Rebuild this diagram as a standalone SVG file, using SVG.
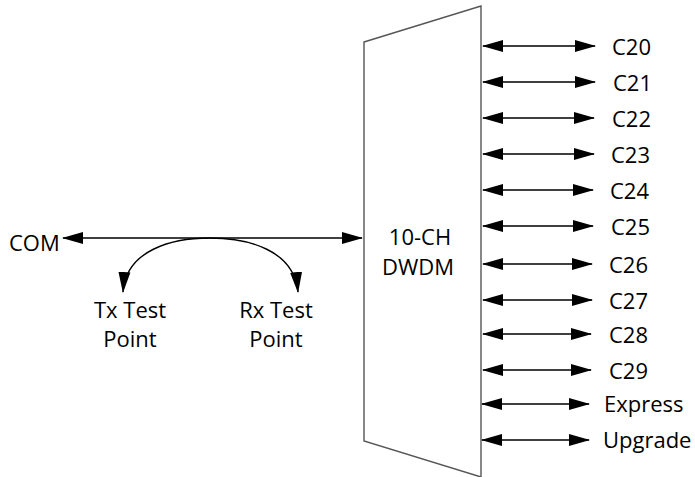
<svg xmlns="http://www.w3.org/2000/svg" width="695" height="477" viewBox="0 0 695 477">
<style>
  text { font-family: "Open Sans", "Liberation Sans", sans-serif; font-size: 22px; fill: #000; }
  .ln { stroke: #000; stroke-width: 1.4; fill: none; marker-start: url(#ah); marker-end: url(#ah); }
  .box { fill: #fff; stroke: #555; stroke-width: 1.4; }
</style>
<defs>
  <marker id="ah" markerUnits="userSpaceOnUse" markerWidth="22" markerHeight="13" refX="20" refY="6.5" orient="auto-start-reverse" viewBox="0 0 22 13">
    <path d="M0,0.5 L21,6.5 L0,12.5 Z" fill="#000"/>
  </marker>
</defs>
<g id="dwdm">
  <polygon class="box" points="364,42 481,6 481,477 364,441"/>
  <text x="420" y="245" text-anchor="middle">10-CH</text>
  <text x="418" y="275" text-anchor="middle">DWDM</text>
</g>
<g id="com"><text x="9" y="251">COM</text></g>
<g id="tx"><text x="130" y="318" text-anchor="middle">Tx Test</text><text x="130" y="347" text-anchor="middle">Point</text></g>
<g id="rx"><text x="276" y="318" text-anchor="middle">Rx Test</text><text x="276" y="347" text-anchor="middle">Point</text></g>
<g id="ports">
  <text x="612" y="55">C20</text>
  <text x="613" y="91">C21</text>
  <text x="612" y="127">C22</text>
  <text x="611" y="163">C23</text>
  <text x="610" y="199">C24</text>
  <text x="611" y="235">C25</text>
  <text x="609" y="273">C26</text>
  <text x="609" y="309">C27</text>
  <text x="609" y="343">C28</text>
  <text x="609" y="379">C29</text>
  <text x="604" y="412">Express</text>
  <text x="603" y="448">Upgrade</text>
</g>
<g id="connectors">
  <line class="ln" x1="63" y1="238" x2="362" y2="238"/>
  <path class="ln" d="M123,292 C126,250 172,238 210,238 C248,238 294,250 298,292"/>
  <line class="ln" x1="483" y1="46" x2="595" y2="46"/>
  <line class="ln" x1="483" y1="82" x2="595" y2="82"/>
  <line class="ln" x1="483" y1="118" x2="594" y2="118"/>
  <line class="ln" x1="483" y1="154" x2="594" y2="154"/>
  <line class="ln" x1="483" y1="190" x2="593" y2="190"/>
  <line class="ln" x1="483" y1="226" x2="593" y2="226"/>
  <line class="ln" x1="483" y1="264" x2="592" y2="264"/>
  <line class="ln" x1="483" y1="300" x2="592" y2="300"/>
  <line class="ln" x1="483" y1="334" x2="591" y2="334"/>
  <line class="ln" x1="483" y1="370" x2="591" y2="370"/>
  <line class="ln" x1="482" y1="404" x2="589" y2="404"/>
  <line class="ln" x1="482" y1="440" x2="589" y2="440"/>
</g>
</svg>
